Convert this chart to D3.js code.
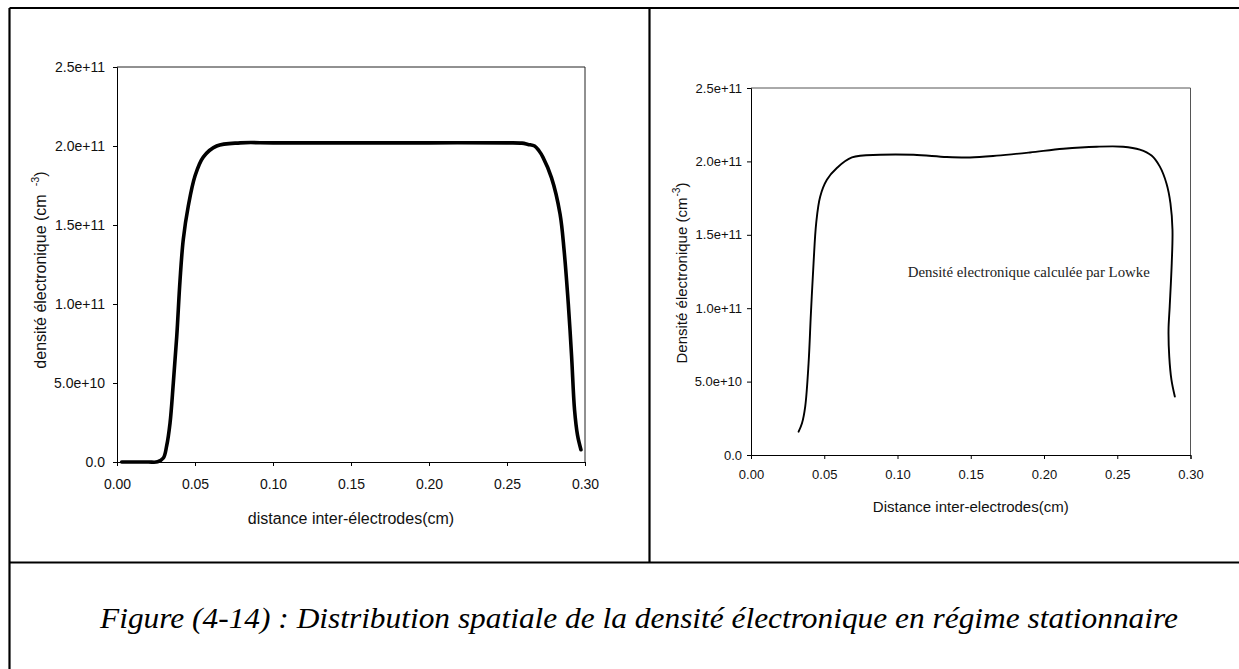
<!DOCTYPE html>
<html>
<head>
<meta charset="utf-8">
<script src="https://cdn.jsdelivr.net/npm/d3@7"></script>
<style>
  html, body { margin: 0; padding: 0; background: #fff; }
  svg { display: block; }
  .tick-label { font-family: "Liberation Sans", Arial, sans-serif; fill: #111; }
</style>
</head>
<body>
<svg id="fig" width="1239" height="669"></svg>
<script>
// Electron density profile from the fluid model (left panel)
const modelX = [0.003, 0.010, 0.020, 0.026, 0.0297, 0.0318, 0.034, 0.0361, 0.0383, 0.0404, 0.0425, 0.0457,
  0.050, 0.0553, 0.0639, 0.079, 0.10, 0.15, 0.20, 0.25, 0.2596, 0.2635, 0.2677, 0.2705, 0.273, 0.2785, 0.284, 0.2866,
  0.2893, 0.2914, 0.2933, 0.2952, 0.2974];
const modelDensity = [0, 0, 0, 0.01e10, 0.25e10, 1.0e10, 2.47e10, 5.0e10, 7.95e10, 1.15e11, 1.41e11, 1.62e11,
  1.81e11, 1.93e11, 2.0e11, 2.02e11, 2.02e11, 2.02e11, 2.02e11, 2.02e11, 2.018e11, 2.01e11, 2.0e11, 1.97e11, 1.93e11, 1.8e11, 1.57e11, 1.34e11,
  1.0e11, 6.7e10, 3.3e10, 1.7e10, 0.78e10];

// Electron density computed by Lowke (right panel)
const lowkeX = [0.0325, 0.0348, 0.037, 0.0393, 0.0409, 0.0427, 0.0445, 0.0472, 0.0518, 0.0586, 0.0689, 0.0882,
  0.111, 0.1336, 0.1495, 0.1677, 0.1904, 0.2131, 0.2359, 0.254, 0.2654, 0.2734, 0.279, 0.2836, 0.2863,
  0.2877, 0.2872, 0.2858, 0.2850, 0.2855, 0.2870, 0.2893];
const lowkeDensity = [1.59e10, 2.16e10, 3.3e10, 6.25e10, 9.66e10, 1.307e11, 1.58e11, 1.76e11, 1.875e11, 1.955e11, 2.027e11, 2.045e11,
  2.045e11, 2.03e11, 2.027e11, 2.039e11, 2.061e11, 2.086e11, 2.1e11, 2.1e11, 2.08e11, 2.04e11, 1.966e11, 1.85e11, 1.716e11,
  1.534e11, 1.307e11, 1.011e11, 8.52e10, 6.7e10, 5.11e10, 3.98e10];

// Axis ticks and their labels
const xTicks = [0, 0.05, 0.10, 0.15, 0.20, 0.25, 0.30];
const xTickLabels = ["0.00", "0.05", "0.10", "0.15", "0.20", "0.25", "0.30"];
const yTicks = [0, 5e10, 1e11, 1.5e11, 2e11, 2.5e11];
const yTickLabels = ["0.0", "5.0e+10", "1.0e+11", "1.5e+11", "2.0e+11", "2.5e+11"];

const svg = d3.select("#fig");

// Page frame: outer border, panel divider and caption separator
const frame = svg.append("g").attr("stroke", "#000").attr("stroke-width", 2.2);
frame.append("line").attr("x1", 9.5).attr("x2", 1239).attr("y1", 8).attr("y2", 8);
frame.append("line").attr("x1", 9.5).attr("x2", 9.5).attr("y1", 8).attr("y2", 669);
frame.append("line").attr("x1", 649.5).attr("x2", 649.5).attr("y1", 8).attr("y2", 562.5);
frame.append("line").attr("x1", 9.5).attr("x2", 1239).attr("y1", 562.5).attr("y2", 562.5);

function panel(cfg) {
  const x = d3.scaleLinear().domain([0, 0.3]).range([cfg.left, cfg.right]);
  const y = d3.scaleLinear().domain([0, 2.5e11]).range([cfg.bottom, cfg.top]);
  const g = svg.append("g");

  // top and right frame of the plot area
  g.append("path")
    .attr("d", `M${cfg.left},${cfg.top}H${cfg.right}V${cfg.bottom}`)
    .attr("fill", "none").attr("stroke", cfg.frameColor).attr("stroke-width", 1);

  const xAxis = d3.axisBottom(x).tickValues(xTicks)
    .tickFormat((d, i) => xTickLabels[i]).tickSize(4).tickPadding(cfg.xPad);
  const yAxis = d3.axisLeft(y).tickValues(yTicks)
    .tickFormat((d, i) => yTickLabels[i]).tickSize(4).tickPadding(cfg.yPad);

  const gx = g.append("g").attr("transform", `translate(0,${cfg.bottom})`).call(xAxis);
  const gy = g.append("g").attr("transform", `translate(${cfg.left},0)`).call(yAxis);
  [gx, gy].forEach(a => {
    a.select(".domain").attr("stroke", "#000");
    a.selectAll(".tick line").attr("stroke", "#000");
    a.selectAll("text").attr("class", "tick-label").attr("font-size", cfg.tickSize).attr("fill", "#111");
  });

  // x-axis title
  g.append("text")
    .attr("x", (cfg.left + cfg.right) / 2).attr("y", cfg.xTitleY)
    .attr("text-anchor", "middle")
    .attr("font-family", "Liberation Sans, Arial, sans-serif")
    .attr("font-size", cfg.titleSize).attr("fill", "#111")
    .text(cfg.xTitle);

  // y-axis title with superscript exponent
  const yt = g.append("text")
    .attr("transform", `translate(${cfg.yTitleX},${cfg.yTitleY}) rotate(-90)`)
    .attr("text-anchor", "middle")
    .attr("font-family", "Liberation Sans, Arial, sans-serif")
    .attr("font-size", cfg.titleSize).attr("fill", "#111");
  yt.append("tspan").text(cfg.yTitle);
  yt.append("tspan").attr("dx", cfg.supGap).attr("dy", -7).attr("font-size", cfg.titleSize * 0.68).text("-3");
  yt.append("tspan").attr("dy", 7).text(")");

  const line = d3.line().x(d => x(d[0])).y(d => y(d[1])).curve(d3.curveCatmullRom.alpha(0.5));
  g.append("path")
    .datum(cfg.xs.map((v, i) => [v, cfg.ys[i]]))
    .attr("d", line)
    .attr("fill", "none").attr("stroke", "#000")
    .attr("stroke-width", cfg.lineWidth)
    .attr("stroke-linecap", "round").attr("stroke-linejoin", "round");
  return { g, x, y };
}

panel({
  left: 117, right: 585, top: 67, bottom: 462,
  xs: modelX, ys: modelDensity, lineWidth: 3.6,
  frameColor: "#222", tickSize: 14, titleSize: 16, xPad: 13, yPad: 8,
  xTitle: "distance inter-électrodes(cm)", xTitleY: 524,
  yTitle: "densité électronique (cm", yTitleX: 46, yTitleY: 270, supGap: 8
});

const right = panel({
  left: 751, right: 1190.5, top: 88, bottom: 455,
  xs: lowkeX, ys: lowkeDensity, lineWidth: 1.9,
  frameColor: "#555", tickSize: 13, titleSize: 15, xPad: 11, yPad: 5,
  xTitle: "Distance inter-electrodes(cm)", xTitleY: 512,
  yTitle: "Densité électronique (cm", yTitleX: 687, yTitleY: 273, supGap: 1
});

// in-plot annotation of the right panel
right.g.append("text")
  .attr("x", right.x(0.107)).attr("y", right.y(1.21e11))
  .attr("font-family", "Liberation Serif, 'Times New Roman', serif")
  .attr("font-size", 15).attr("fill", "#222")
  .attr("textLength", 242).attr("lengthAdjust", "spacingAndGlyphs")
  .text("Densité electronique calculée par Lowke");

// figure caption
svg.append("text")
  .attr("x", 100).attr("y", 628)
  .attr("font-family", "Liberation Serif, 'Times New Roman', serif")
  .attr("font-style", "italic").attr("font-size", 30).attr("fill", "#000")
  .attr("textLength", 1078).attr("lengthAdjust", "spacingAndGlyphs")
  .text("Figure (4-14) : Distribution spatiale de la densité électronique en régime stationnaire");
</script>
</body>
</html>
